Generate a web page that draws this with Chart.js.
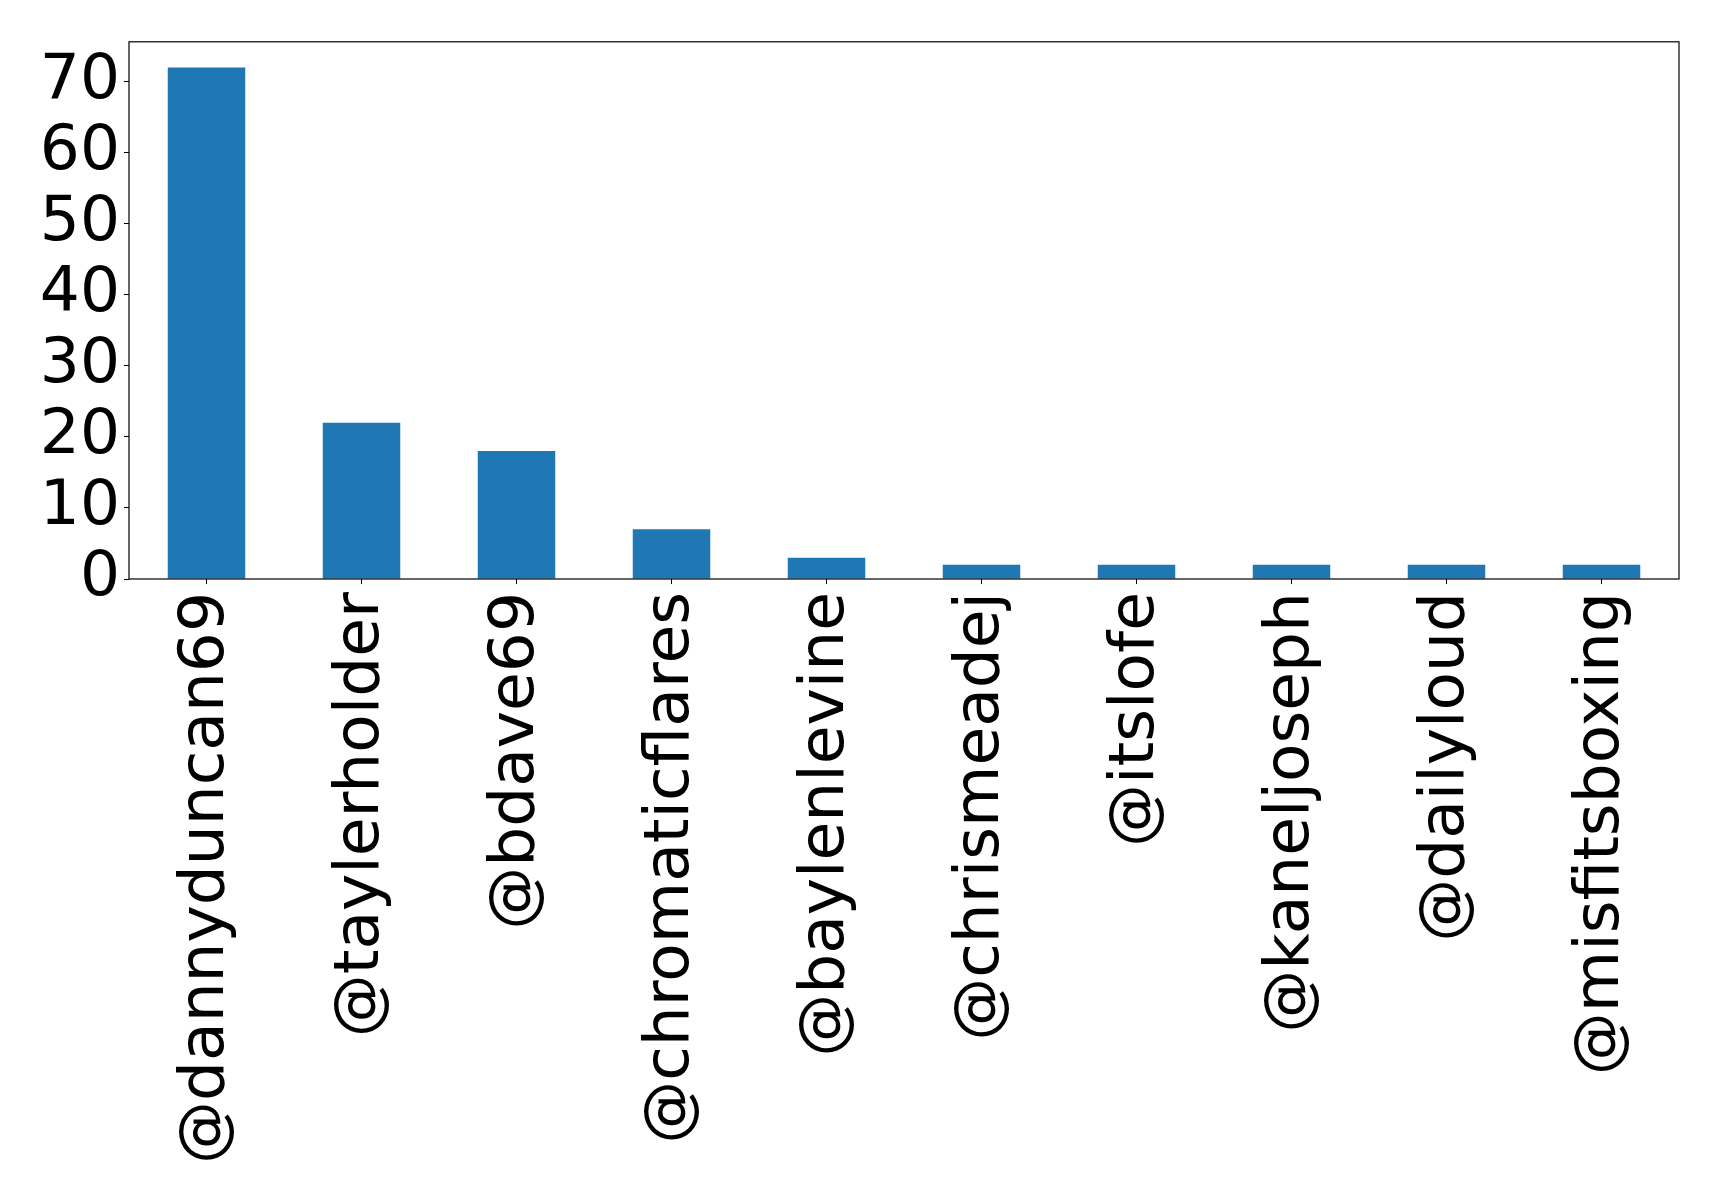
<!DOCTYPE html>
<html>
<head>
<meta charset="utf-8">
<script src="https://cdn.jsdelivr.net/npm/chart.js@4"></script>
<style>
  html, body { margin: 0; padding: 0; background: #fff; }
  #chart { display: block; }
</style>
</head>
<body>
<canvas id="chart" width="1719" height="1195"></canvas>
<script>
const accounts = [
  "@dannyduncan69", "@taylerholder", "@bdave69", "@chromaticflares", "@baylenlevine",
  "@chrismeadej", "@itslofe", "@kaneljoseph", "@dailyloud", "@misfitsboxing"
];
const mentions = [72, 22, 18, 7, 3, 2, 2, 2, 2, 2];
const yTicks = [0, 10, 20, 30, 40, 50, 60, 70];

const ctx = document.getElementById("chart").getContext("2d");

// matplotlib-style box around the plot area
const frame = {
  id: "frame",
  afterDraw(chart) {
    const a = chart.chartArea;
    const c = chart.ctx;
    c.save();
    c.strokeStyle = "#000";
    c.lineWidth = 1.2;
    c.strokeRect(a.left, a.top, a.right - a.left, a.bottom - a.top);
    c.restore();
  }
};

const tickFont = { family: "'DejaVu Sans'", size: 63 };

new Chart(ctx, {
  type: "bar",
  data: {
    labels: accounts,
    datasets: [{
      data: mentions,
      backgroundColor: "#1f77b4",
      borderWidth: 0,
      barPercentage: 0.5,
      categoryPercentage: 1.0
    }]
  },
  options: {
    responsive: false,
    animation: false,
    layout: { padding: { top: 40, right: 40, left: 0, bottom: 0 } },
    plugins: { legend: { display: false }, tooltip: { enabled: false } },
    scales: {
      x: {
        grid: { offset: false, drawOnChartArea: false, drawTicks: true, tickLength: 5, tickColor: "#000" },
        border: { display: false },
        ticks: {
          color: "#000",
          font: tickFont,
          autoSkip: false,
          minRotation: 90,
          maxRotation: 90,
          padding: 8
        },
        afterFit(scale) { scale.height = 1195 - 579; }
      },
      y: {
        min: 0,
        max: 75.6,
        grid: { drawOnChartArea: false, drawTicks: true, tickLength: 5, tickColor: "#000" },
        border: { display: false },
        afterBuildTicks(scale) { scale.ticks = yTicks.map(v => ({ value: v })); },
        ticks: {
          color: "#000",
          font: tickFont,
          autoSkip: false,
          padding: 4
        },
        afterFit(scale) { scale.width = 129; }
      }
    }
  },
  plugins: [frame]
});
</script>
</body>
</html>
